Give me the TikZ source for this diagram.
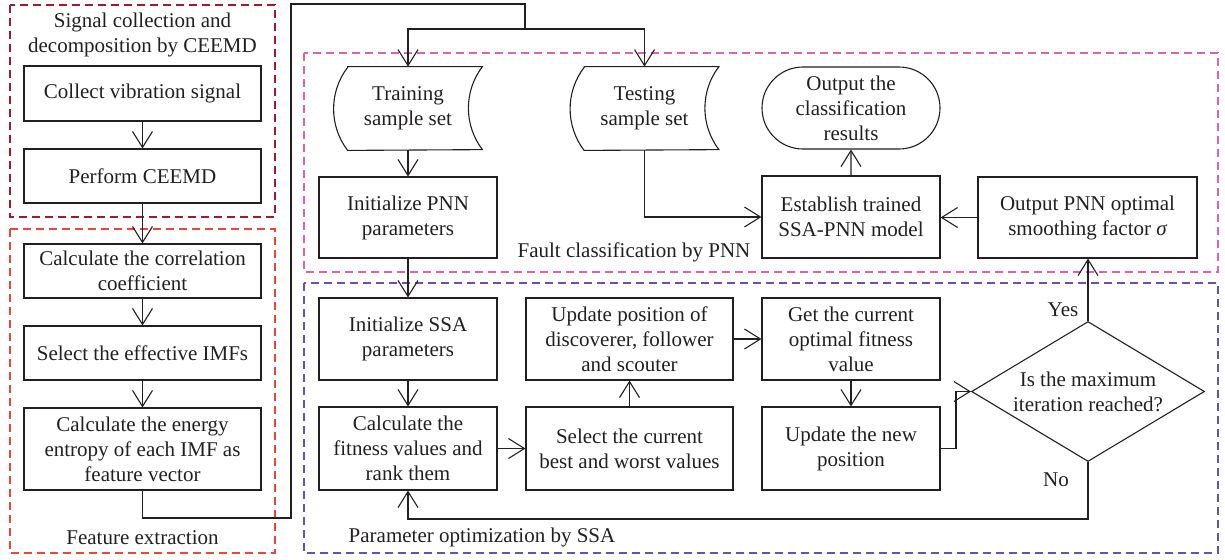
\documentclass[tikz,border=0pt]{standalone}
\usepackage{fontspec}
\setmainfont{Liberation Serif}
\usetikzlibrary{arrows.meta,shapes.geometric,shapes.misc}
\definecolor{txt}{HTML}{231F20}
\definecolor{cdred}{HTML}{9E1C32}
\definecolor{cred}{HTML}{E8483A}
\definecolor{cpink}{HTML}{DB62AE}
\definecolor{cblue}{HTML}{5F55B0}
\begin{document}
\begin{tikzpicture}[x=0.5pt,y=-0.5pt,
  every node/.style={font=\fontsize{10.5pt}{12.5pt}\selectfont, text=txt},
  box/.style={draw=txt, line width=0.55pt, rectangle, align=center, inner sep=0pt},
  colL/.style={box, minimum width=118.5pt},
  colM/.style={box, minimum width=89pt},
  colW/.style={box, minimum width=103.5pt},
  docnode/.style={rectangle, align=center, inner sep=0pt, minimum width=74pt, minimum height=41.5pt},
  stad/.style={box, rounded rectangle, rounded rectangle arc length=180, minimum width=89pt, minimum height=41pt},
  dec/.style={draw=txt, line width=0.55pt, diamond, aspect=1.664, inner sep=0pt, align=center, minimum width=116.5pt, minimum height=70pt},
  ln/.style={draw=txt, line width=0.55pt},
  arr/.style={ln, -{Straight Barb[length=8pt,width=10pt]}},
  frame/.style={line width=0.6pt, dash pattern=on 4pt off 2.5pt},
  lbl/.style={align=center, inner sep=0pt}
]
\useasboundingbox (0,0) rectangle (1225,559);

% group frames
\draw[frame, draw=cdred] (10,5) rectangle (275,217);
\draw[frame, draw=cred] (10,229) rectangle (275,553);
\draw[frame, draw=cpink] (304,53) rectangle (1218,272);
\draw[frame, draw=cblue] (304,283) rectangle (1218,553);

% frame labels
\node[lbl] (t1) at (142.5,34.5) {Signal collection and\\decomposition by CEEMD};
\node[lbl] (t2) at (142.5,538) {Feature extraction};
\node[lbl] (t3) at (634,252) {Fault classification by PNN};
\node[lbl] (t4) at (482,537) {Parameter optimization by SSA};

% left column
\node[colL, minimum height=27.5pt] (collect) at (142.5,93.5) {Collect vibration signal};
\node[colL, minimum height=27pt] (perform) at (142.5,176) {Perform CEEMD};
\node[colL, minimum height=27pt] (corr) at (142.5,271) {Calculate the correlation\\coefficient};
\node[colL, minimum height=27pt] (imf) at (142.5,353) {Select the effective IMFs};
\node[colL, minimum height=41pt] (energy) at (142.5,449) {Calculate the energy\\entropy of each IMF as\\feature vector};

% sample sets (stored data shapes)
\node[docnode] (train) at (408,108.5) {Training\\sample set};
\node[docnode] (test) at (644.5,108.5) {Testing\\sample set};
\foreach \n in {train,test}{
  \draw[ln] ([xshift=7pt]\n.north west) -- (\n.north east)
    arc[start angle=142.7, end angle=217.3, radius=34.25pt]
    -- ([xshift=7pt]\n.south west)
    arc[start angle=217.3, end angle=142.7, radius=34.25pt] -- cycle;
}

% PNN part
\node[colM, minimum height=40.5pt] (initpnn) at (408,217.5) {Initialize PNN\\parameters};
\node[stad] (out) at (851,108) {Output the\\classification\\results};
\node[colM, minimum height=41pt] (estab) at (851,217) {Establish trained\\SSA-PNN model};
\node[box, minimum width=109.5pt, minimum height=40.5pt] (optpnn) at (1087.5,217.5) {Output PNN optimal\\smoothing factor {\itshape σ}};

% SSA part
\node[colM, minimum height=41pt] (initssa) at (408,339) {Initialize SSA\\parameters};
\node[colM, minimum height=41.5pt] (fit) at (408,448.5) {Calculate the\\fitness values and\\rank them};
\node[colW, minimum height=41pt] (upos) at (629.5,339) {Update position of\\discoverer, follower\\and scouter};
\node[colW, minimum height=41.5pt] (best) at (629.5,448.5) {Select the current\\best and worst values};
\node[colM, minimum height=41pt] (getcur) at (851,339) {Get the current\\optimal fitness\\value};
\node[colM, minimum height=41.5pt] (upnew) at (851,448.5) {Update the new\\position};
\node[dec] (dia) at (1088,391.5) {Is the maximum\\iteration reached?};
\node[lbl] (yes) at (1063,310) {Yes};
\node[lbl] (no) at (1056,480) {No};

% connectors
\draw[arr] (collect) -- (perform);
\draw[arr] (perform) -- (corr);
\draw[arr] (corr) -- (imf);
\draw[arr] (imf) -- (energy);
\coordinate (j1) at (291,518);
\coordinate (j2) at (291,4);
\coordinate (j3) at (525,4);
\coordinate (j4) at (525,29);
\draw[ln] (energy.south) |- (j1) -- (j2) -- (j3) -- (j4);
\draw[arr] (j4) -| (train.north);
\draw[arr] (j4) -| (test.north);
\draw[arr] (train) -- (initpnn);
\draw[arr] (initpnn) -- (initssa);
\draw[arr] (initssa) -- (fit);
\draw[arr] (fit) -- (best);
\draw[arr] (best) -- (upos);
\draw[arr] (upos) -- (getcur);
\draw[arr] (getcur) -- (upnew);
\coordinate (k1) at (956,448.5);
\draw[arr] (upnew.east) -- (k1) |- (dia.west);
\draw[arr] (dia.north) -- (dia.north |- optpnn.south);
\coordinate (k2) at (1088,519);
\draw[arr] (dia.south) -- (k2) -| (fit.south);
\draw[arr] (optpnn.west) -- (optpnn.west -| estab.east);
\draw[arr] (test.south) |- (estab.west);
\draw[arr] (estab) -- (out);
\end{tikzpicture}
\end{document}
